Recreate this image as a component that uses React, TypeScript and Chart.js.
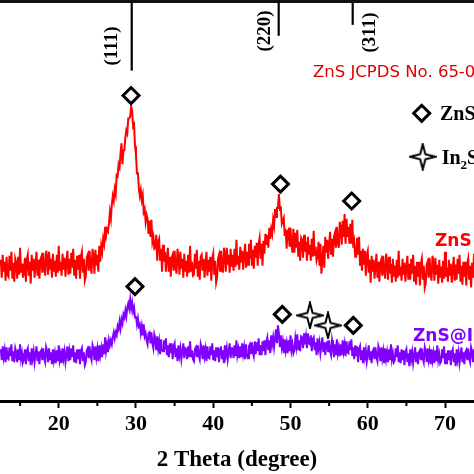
import React, { useEffect, useRef } from "react";
import { Chart, registerables } from "chart.js";
Chart.register(...registerables);

// ---- data ----
const START_DEG = 12.5;
const STEP_DEG = 0.125;
const X_MIN = 12.4;
const X_MAX = 73.75;
const Y_MIN = 0;
const Y_MAX = 401;
const MAJOR_TICKS = [20, 30, 40, 50, 60, 70];
const MINOR_TICKS = [15, 25, 35, 45, 55, 65];

// ZnS intensity (a.u.), one row per degree starting at 12.5
const ZNS = [
  142, 124, 147, 130, 140, 121, 145, 127,
  125, 146, 131, 150, 123, 139, 120, 143,
  139, 123, 145, 127, 154, 129, 138, 124,
  129, 144, 120, 142, 147, 126, 140, 118,
  147, 131, 143, 124, 138, 150, 126, 142,
  123, 142, 145, 129, 149, 133, 126, 151,
  145, 127, 150, 133, 143, 124, 148, 130,
  141, 125, 147, 129, 156, 131, 140, 126,
  148, 132, 144, 125, 139, 151, 127, 143,
  128, 149, 134, 153, 126, 142, 123, 146,
  132, 147, 123, 145, 150, 129, 143, 121,
  125, 144, 147, 131, 151, 135, 128, 153,
  146, 128, 152, 136, 147, 130, 156, 140,
  156, 150, 163, 158, 175, 166, 173, 171,
  178, 190, 183, 198, 206, 201, 213, 208,
  227, 226, 238, 235, 249, 259, 238, 252,
  252, 265, 272, 269, 284, 284, 286, 296,
  292, 276, 278, 256, 248, 229, 229, 213,
  206, 212, 202, 207, 190, 193, 180, 187,
  183, 168, 181, 165, 182, 160, 165, 153,
  154, 167, 141, 160, 163, 141, 153, 130,
  157, 140, 150, 130, 143, 154, 130, 145,
  125, 144, 147, 131, 151, 135, 128, 153,
  145, 127, 150, 133, 143, 124, 148, 130,
  141, 125, 147, 129, 156, 131, 140, 126,
  127, 148, 133, 152, 125, 141, 122, 145,
  147, 131, 143, 124, 138, 150, 126, 142,
  130, 145, 121, 143, 148, 127, 141, 119,
  124, 143, 147, 131, 151, 136, 129, 154,
  148, 130, 154, 137, 147, 129, 153, 135,
  147, 131, 153, 135, 162, 137, 146, 132,
  155, 139, 151, 132, 146, 158, 134, 150,
  137, 158, 143, 162, 136, 152, 133, 156,
  144, 159, 136, 158, 164, 143, 158, 136,
  161, 148, 168, 157, 167, 154, 174, 163,
  173, 168, 182, 176, 193, 185, 194, 194,
  208, 193, 194, 178, 181, 184, 166, 173,
  153, 170, 172, 155, 174, 157, 149, 173,
  149, 169, 154, 172, 145, 160, 141, 164,
  162, 144, 167, 150, 160, 141, 165, 147,
  157, 141, 163, 145, 171, 146, 155, 141,
  145, 160, 136, 158, 128, 142, 156, 134,
  165, 149, 162, 143, 158, 170, 147, 163,
  145, 165, 169, 154, 175, 160, 154, 180,
  174, 157, 181, 165, 188, 158, 183, 165,
  175, 158, 178, 158, 182, 154, 160, 145,
  145, 164, 147, 165, 136, 151, 131, 153,
  137, 151, 126, 147, 151, 129, 142, 119,
  146, 130, 142, 123, 136, 148, 124, 140,
  120, 139, 142, 126, 146, 130, 123, 148,
  140, 122, 145, 128, 138, 119, 143, 125,
  136, 120, 142, 124, 151, 126, 135, 121,
  143, 127, 139, 120, 134, 146, 122, 138,
  122, 143, 128, 147, 120, 136, 117, 140,
  125, 140, 116, 138, 143, 122, 136, 114,
  118, 137, 140, 124, 144, 128, 121, 146,
  139, 121, 144, 127, 137, 118, 142, 124,
  135, 119, 141, 123, 150, 125, 134, 120,
  142, 126, 138, 119, 133, 145, 121, 137,
  122, 143, 128, 147, 120, 136, 117, 140,
  125, 140, 116, 138, 143, 122, 136, 114,
  139, 124, 148,
];

// ZnS@In2S3 intensity (a.u.), same grid
const ZNS_IN2S3 = [
  52, 41, 55, 44, 51, 39, 54, 43,
  42, 54, 45, 57, 40, 50, 39, 53,
  49, 39, 52, 41, 57, 42, 48, 39,
  42, 52, 37, 50, 53, 40, 49, 36,
  53, 43, 50, 39, 47, 55, 40, 50,
  37, 49, 51, 41, 53, 43, 39, 54,
  50, 39, 53, 42, 49, 37, 52, 41,
  48, 38, 51, 40, 56, 41, 47, 38,
  53, 43, 50, 39, 47, 55, 40, 50,
  41, 53, 44, 56, 39, 49, 38, 52,
  42, 52, 37, 50, 53, 40, 49, 36,
  39, 51, 53, 43, 55, 45, 41, 56,
  52, 41, 55, 44, 52, 40, 56, 46,
  53, 44, 57, 47, 64, 50, 57, 49,
  61, 56, 61, 57, 64, 69, 63, 69,
  66, 75, 72, 80, 73, 82, 78, 87,
  84, 91, 85, 94, 98, 93, 102, 93,
  99, 90, 94, 84, 85, 77, 83, 75,
  77, 68, 75, 66, 77, 65, 68, 61,
  57, 68, 69, 58, 69, 58, 53, 67,
  63, 51, 65, 53, 60, 47, 62, 51,
  50, 61, 52, 63, 46, 56, 44, 58,
  48, 58, 42, 55, 58, 44, 53, 40,
  56, 46, 53, 42, 50, 58, 43, 53,
  52, 42, 55, 44, 60, 45, 51, 42,
  40, 52, 54, 44, 56, 46, 42, 57,
  53, 42, 56, 45, 52, 40, 55, 44,
  43, 55, 46, 58, 41, 51, 40, 54,
  44, 54, 39, 52, 55, 42, 51, 38,
  56, 46, 53, 42, 50, 58, 43, 53,
  53, 43, 56, 45, 61, 46, 52, 43,
  55, 44, 58, 47, 54, 42, 57, 46,
  43, 55, 57, 47, 59, 49, 45, 60,
  47, 59, 50, 63, 46, 56, 46, 60,
  50, 61, 46, 60, 64, 51, 61, 48,
  66, 57, 64, 54, 63, 72, 58, 76,
  68, 54, 66, 54, 60, 48, 62, 51,
  58, 48, 61, 50, 66, 51, 57, 48,
  51, 63, 55, 67, 51, 61, 50, 65,
  64, 53, 68, 57, 65, 53, 68, 58,
  57, 66, 50, 62, 64, 51, 59, 46,
  63, 53, 59, 48, 56, 64, 49, 59,
  46, 58, 59, 49, 61, 50, 46, 61,
  54, 44, 57, 46, 62, 48, 54, 45,
  57, 46, 61, 50, 57, 45, 60, 49,
  48, 60, 51, 62, 45, 54, 42, 56,
  45, 55, 39, 52, 55, 42, 51, 38,
  54, 44, 51, 40, 48, 56, 41, 50,
  38, 50, 52, 42, 54, 44, 40, 55,
  51, 40, 54, 43, 50, 38, 53, 42,
  49, 39, 52, 41, 57, 42, 48, 39,
  41, 53, 44, 56, 39, 49, 38, 52,
  41, 51, 36, 49, 52, 39, 48, 35,
  52, 42, 49, 38, 46, 54, 39, 49,
  37, 49, 51, 41, 53, 43, 39, 54,
  50, 39, 53, 42, 49, 37, 52, 41,
  48, 38, 51, 40, 56, 41, 47, 38,
  40, 52, 43, 55, 38, 48, 37, 51,
  41, 51, 36, 49, 52, 39, 48, 35,
  52, 42, 49, 38, 46, 54, 39, 49,
  37, 49, 51, 41, 53, 43, 39, 54,
  50, 39, 52,
];

// peak markers
const ZNS_DIAMOND_X = [29.36, 48.7, 57.92];
const ZNS_DIAMOND_Y = [307, 218, 201];
const MIX_DIAMOND_X = [29.87, 48.94, 58.13];
const MIX_DIAMOND_Y = [115, 87, 76];
const MIX_STAR_X = [52.52, 54.85];
const MIX_STAR_Y = [86, 76];

// JCPDS reference sticks
const STICK_POS = [29.45, 48.47, 58.05];
const STICK_END = [332, 367, 378];
const STICK_HKL = ["(111)", "(220)", "(311)"];

// ---- styles / layout ----
const RED = "#ff0000";
const PURPLE = "#8000ff";
const SERIF = "'Liberation Serif', 'Times New Roman', serif";
const SANS = "'DejaVu Sans', sans-serif";
const STICK_LABEL_DX = [-20, -14, 17];
const STICK_LABEL_Y = [46, 31, 32.5];

function makeStar(size: number): HTMLCanvasElement {
  const c = document.createElement("canvas");
  c.width = size;
  c.height = size;
  const g = c.getContext("2d")!;
  const m = size / 2;
  const R = size / 2 - 1.5;
  const r = 2.6;
  g.beginPath();
  g.moveTo(m, m - R);
  g.lineTo(m + r, m - r);
  g.lineTo(m + R, m);
  g.lineTo(m + r, m + r);
  g.lineTo(m, m + R);
  g.lineTo(m - r, m + r);
  g.lineTo(m - R, m);
  g.lineTo(m - r, m - r);
  g.closePath();
  g.fillStyle = "#ffffff";
  g.fill();
  g.lineWidth = 2;
  g.strokeStyle = "#000000";
  g.lineJoin = "miter";
  g.stroke();
  return c;
}

export default function App() {
  const ref = useRef<HTMLCanvasElement | null>(null);

  useEffect(() => {
    if (!ref.current) return;
    const star = makeStar(28);

    const overlay = {
      id: "overlay",
      afterDraw(chart: any) {
        const { ctx, chartArea } = chart;
        const xs = chart.scales.x;
        const ys = chart.scales.y;
        ctx.save();
        // top frame line
        ctx.strokeStyle = "#111";
        ctx.lineWidth = 3;
        ctx.beginPath();
        ctx.moveTo(0, chartArea.top - 0.5);
        ctx.lineTo(chart.width, chartArea.top - 0.5);
        ctx.stroke();
        // minor ticks
        ctx.lineWidth = 2;
        ctx.strokeStyle = "#000";
        MINOR_TICKS.forEach((v) => {
          const px = xs.getPixelForValue(v);
          ctx.beginPath();
          ctx.moveTo(px, chartArea.bottom);
          ctx.lineTo(px, chartArea.bottom + 5);
          ctx.stroke();
        });
        // sticks
        ctx.lineWidth = 2.2;
        STICK_POS.forEach((v, i) => {
          const px = xs.getPixelForValue(v);
          ctx.beginPath();
          ctx.moveTo(px, chartArea.top);
          ctx.lineTo(px, ys.getPixelForValue(STICK_END[i]));
          ctx.stroke();
          ctx.save();
          ctx.translate(px + STICK_LABEL_DX[i], STICK_LABEL_Y[i]);
          ctx.rotate(-Math.PI / 2);
          ctx.font = `bold 19px ${SERIF}`;
          ctx.fillStyle = "#000";
          ctx.textAlign = "center";
          ctx.textBaseline = "middle";
          ctx.fillText(STICK_HKL[i], 0, 0);
          ctx.restore();
        });
        // JCPDS label
        ctx.font = `16.5px ${SANS}`;
        ctx.fillStyle = "#e00000";
        ctx.textAlign = "left";
        ctx.textBaseline = "middle";
        ctx.fillText("ZnS JCPDS No. 65-0309", 313, 73);

        // legend
        ctx.save();
        ctx.beginPath();
        ctx.moveTo(421.7 - 8, 113.3);
        ctx.lineTo(421.7, 113.3 - 8);
        ctx.lineTo(421.7 + 8, 113.3);
        ctx.lineTo(421.7, 113.3 + 8);
        ctx.closePath();
        ctx.fillStyle = "#fff";
        ctx.fill();
        ctx.lineWidth = 3;
        ctx.strokeStyle = "#000";
        ctx.stroke();
        ctx.restore();
        ctx.drawImage(star, 422.7 - 14, 156.7 - 14);
        ctx.fillStyle = "#000";
        ctx.font = `bold 20px ${SERIF}`;
        ctx.textBaseline = "alphabetic";
        ctx.fillText("ZnS", 440, 120);
        ctx.fillText("In", 441.7, 164);
        const wIn = ctx.measureText("In").width;
        ctx.font = `bold 13px ${SERIF}`;
        ctx.fillText("2", 441.7 + wIn, 169);
        const w2 = ctx.measureText("2").width;
        ctx.font = `bold 20px ${SERIF}`;
        ctx.fillText("S", 441.7 + wIn + w2, 164);
        const wS = ctx.measureText("S").width;
        ctx.font = `bold 13px ${SERIF}`;
        ctx.fillText("3", 441.7 + wIn + w2 + wS, 169);

        // sample labels
        ctx.font = `bold 17px ${SANS}`;
        ctx.textBaseline = "middle";
        ctx.fillStyle = RED;
        ctx.fillText("ZnS", 435, 242);
        ctx.fillStyle = PURPLE;
        ctx.fillText("ZnS@In\u2082S\u2083", 413, 337);
        ctx.restore();
      },
    };

    const toXY = (arr: number[]) => arr.map((v, i) => ({ x: START_DEG + STEP_DEG * i, y: v }));
    const pts = (xs: number[], ys: number[]) => xs.map((x, i) => ({ x, y: ys[i] }));

    const chart = new Chart(ref.current, {
      type: "line",
      data: {
        datasets: [
          {
            type: "scatter",
            data: pts(ZNS_DIAMOND_X.concat(MIX_DIAMOND_X), ZNS_DIAMOND_Y.concat(MIX_DIAMOND_Y)),
            pointStyle: "rectRot",
            pointRadius: 8,
            pointBorderWidth: 3,
            pointBorderColor: "#000",
            pointBackgroundColor: "#fff",
            showLine: false,
            clip: false,
            order: 0,
          } as any,
          {
            type: "scatter",
            data: pts(MIX_STAR_X, MIX_STAR_Y),
            pointStyle: star,
            pointRadius: 14,
            showLine: false,
            clip: false,
            order: 0,
          } as any,
          {
            data: toXY(ZNS),
            borderColor: RED,
            borderWidth: 2,
            pointRadius: 0,
            tension: 0,
            fill: false,
            order: 1,
          },
          {
            data: toXY(ZNS_IN2S3),
            borderColor: PURPLE,
            borderWidth: 2,
            pointRadius: 0,
            tension: 0,
            fill: false,
            order: 1,
          },
        ],
      },
      options: {
        responsive: false,
        animation: false,
        events: [],
        layout: { autoPadding: false, padding: { left: 0, right: 0, top: 2, bottom: 0 } },
        plugins: { legend: { display: false }, tooltip: { enabled: false } },
        scales: {
          x: {
            type: "linear",
            min: X_MIN,
            max: X_MAX,
            afterBuildTicks: (axis: any) => {
              axis.ticks = MAJOR_TICKS.map((v) => ({ value: v }));
            },
            ticks: {
              includeBounds: false,
              autoSkip: false,
              maxRotation: 0,
              padding: 3,
              color: "#000",
              font: { family: SERIF, size: 22, weight: "bold" },
            },
            grid: {
              display: true,
              drawOnChartArea: false,
              drawTicks: true,
              tickLength: 7,
              tickWidth: 2,
              tickColor: "#000",
            },
            border: { display: true, color: "#000", width: 3 },
            title: {
              display: true,
              text: "2 Theta (degree)",
              color: "#000",
              font: { family: SERIF, size: 23, weight: "bold" },
              padding: { top: 6, bottom: 0 },
            },
          },
          y: { display: false, min: Y_MIN, max: Y_MAX },
        },
      } as any,
      plugins: [overlay],
    });
    return () => chart.destroy();
  }, []);

  return (
    <canvas
      ref={ref}
      width={474}
      height={474}
      style={{ position: "fixed", left: 0, top: 0, width: 474, height: 474, background: "#fff" }}
    />
  );
}
